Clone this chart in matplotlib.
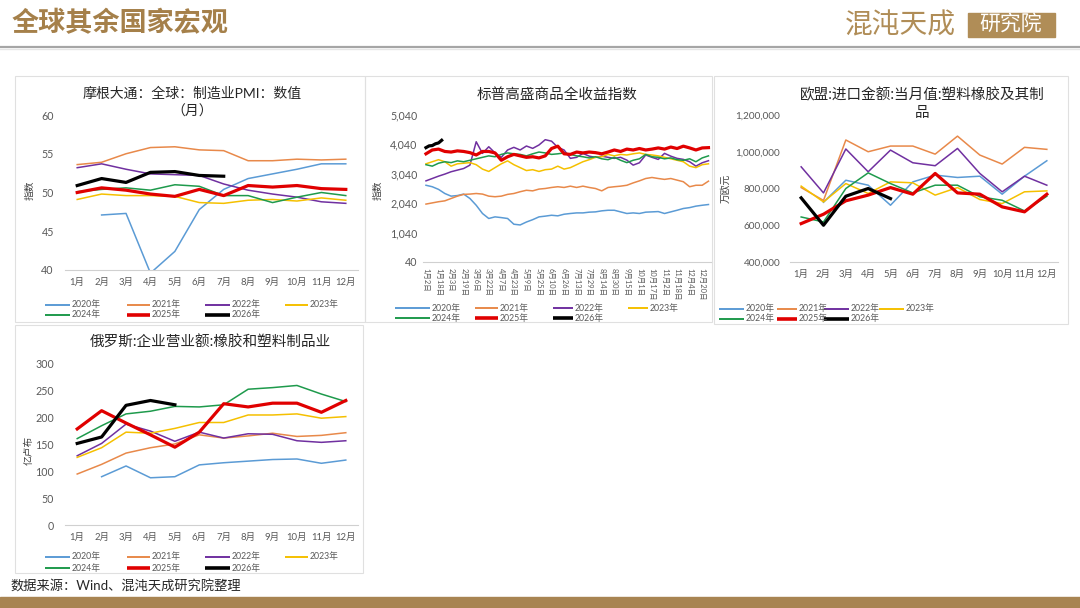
import matplotlib
matplotlib.use('Agg')
import numpy as np
import matplotlib.pyplot as plt
from matplotlib.lines import Line2D
from matplotlib.patches import Rectangle
from matplotlib.ticker import FuncFormatter

plt.rcParams['font.family'] = ['Lato', 'Noto Sans CJK SC', 'DejaVu Sans']

W, H = 1080, 608
nan = np.nan

years = ['2020年', '2021年', '2022年', '2023年', '2024年', '2025年', '2026年']
colors = ['#5b9bd5', '#e8894a', '#7030a0', '#f5c000', '#1e9a4c', '#e00000', '#000000']
widths = [1.1, 1.1, 1.1, 1.1, 1.1, 2.3, 2.3]
months = ['1月', '2月', '3月', '4月', '5月', '6月', '7月', '8月', '9月', '10月', '11月', '12月']

# 摩根大通 全球制造业PMI
pmi_2020 = [nan, 47.1, 47.3, 39.6, 42.4, 47.8, 50.4, 51.8, 52.4, 53.0, 53.7, 53.7]
pmi_2021 = [53.6, 53.9, 55.0, 55.8, 55.9, 55.5, 55.4, 54.1, 54.1, 54.3, 54.2, 54.3]
pmi_2022 = [53.2, 53.7, 53.0, 52.4, 52.3, 52.2, 51.1, 50.3, 49.8, 49.4, 48.8, 48.6]
pmi_2023 = [49.1, 49.8, 49.6, 49.6, 49.5, 48.7, 48.6, 49.0, 49.1, 48.9, 49.3, 49.0]
pmi_2024 = [50.1, 50.4, 50.6, 50.3, 51.0, 50.8, 49.6, 49.6, 48.7, 49.4, 50.0, 49.6]
pmi_2025 = [50.0, 50.6, 50.3, 49.8, 49.5, 50.4, 49.6, 50.9, 50.7, 50.9, 50.5, 50.4]
pmi_2026 = [50.9, 51.8, 51.3, 52.6, 52.7, 52.2, 52.1, nan, nan, nan, nan, nan]

# 标普高盛商品全收益指数 (sampled every 8 days from 1月2日)
spgs_days = list(range(0, 361, 8))
spgs_2020 = [2650, 2600, 2510, 2370, 2280, 2300, 2350, 2200, 1970, 1690,
             1520, 1575, 1550, 1520, 1325, 1300, 1400, 1480, 1575, 1600,
             1630, 1610, 1665, 1690, 1710, 1710, 1735, 1745, 1780, 1800,
             1800, 1745, 1690, 1710, 1690, 1735, 1745, 1755, 1690, 1745,
             1800, 1860, 1890, 1940, 1970, 1995]
spgs_2021 = [2010, 2050, 2090, 2120, 2200, 2280, 2340, 2350, 2370, 2350,
             2280, 2260, 2280, 2340, 2370, 2430, 2480, 2460, 2520, 2540,
             2575, 2600, 2575, 2620, 2575, 2620, 2575, 2540, 2460, 2575,
             2600, 2620, 2650, 2730, 2800, 2880, 2915, 2880, 2850, 2880,
             2825, 2770, 2600, 2650, 2650, 2790]
spgs_2022 = [2800, 2880, 2960, 3030, 3110, 3165, 3220, 3335, 4130, 3735,
             3960, 3750, 3600, 3850, 3940, 3850, 3985, 3905, 4020, 4200,
             4150, 3940, 3850, 3565, 3600, 3735, 3640, 3600, 3640, 3600,
             3565, 3600, 3505, 3335, 3415, 3680, 3600, 3530, 3735, 3640,
             3565, 3530, 3450, 3300, 3415, 3485]
spgs_2023 = [3380, 3450, 3520, 3450, 3300, 3380, 3400, 3420, 3350, 3200,
             3120, 3250, 3380, 3480, 3350, 3250, 3150, 3180, 3120, 3180,
             3200, 3300, 3200, 3250, 3350, 3450, 3520, 3600, 3620, 3700,
             3650, 3700, 3680, 3720, 3750, 3700, 3680, 3650, 3600, 3550,
             3500, 3450, 3300, 3250, 3350, 3380]
spgs_2024 = [3350, 3300, 3400, 3450, 3420, 3480, 3450, 3500, 3550, 3600,
             3650, 3620, 3700, 3750, 3720, 3700, 3650, 3720, 3780, 3750,
             3700, 3720, 3750, 3700, 3650, 3620, 3580, 3620, 3550, 3520,
             3600, 3500, 3420, 3500, 3550, 3700, 3620, 3600, 3550, 3580,
             3520, 3500, 3550, 3450, 3580, 3650]
spgs_2025 = [3720, 3850, 3880, 3800, 3780, 3820, 3800, 3760, 3680, 3800,
             3800, 3750, 3500, 3620, 3700, 3650, 3600, 3620, 3580, 3650,
             3900, 3980, 3720, 3700, 3780, 3750, 3780, 3760, 3720, 3780,
             3850, 3800, 3880, 3850, 3900, 3850, 3880, 3920, 3880, 3950,
             3900, 3980, 3920, 3850, 3920, 3930]
spgs_2026_days = [0, 4, 8, 12, 16, 20]
spgs_2026 = [3930, 3990, 4000, 4060, 4090, 4180]
spgs_tick_days = list(range(0, 353, 16))
spgs_tick_labels = ['1月2日', '1月18日', '2月3日', '2月19日', '3月6日', '3月22日',
                    '4月7日', '4月23日', '5月9日', '5月25日', '6月10日', '6月26日',
                    '7月13日', '7月29日', '8月14日', '8月30日', '9月15日', '10月1日',
                    '10月17日', '11月2日', '11月18日', '12月4日', '12月20日']

# 欧盟 进口金额 塑料橡胶及其制品 (万欧元)
eu_2020 = [nan, 725000, 845000, 818000, 709000, 836000, 873000, 860000, 867000, 769000, 867000, 951000]
eu_2021 = [805000, 735000, 1064000, 1000000, 1031000, 1031000, 987000, 1085000, 982000, 933000, 1024000, 1013000]
eu_2022 = [918000, 776000, 1015000, 891000, 1009000, 940000, 924000, 1018000, 882000, 782000, 867000, 818000]
eu_2023 = [813000, 727000, 827000, 773000, 836000, 831000, 764000, 805000, 740000, 718000, 782000, 787000]
eu_2024 = [645000, 618000, 800000, 885000, 827000, 776000, 818000, 818000, 755000, 736000, 678000, 758000]
eu_2025 = [609000, 660000, 733000, 764000, 805000, 769000, 882000, 776000, 769000, 700000, 673000, 769000]
eu_2026 = [749000, 600000, 758000, 800000, 745000, nan, nan, nan, nan, nan, nan, nan]

# 俄罗斯 企业营业额 橡胶和塑料制品业 (亿卢布)
ru_2020 = [nan, 90, 110, 88, 90, 112, 116, 119, 122, 123, 115, 121]
ru_2021 = [95, 113, 134, 144, 151, 168, 162, 166, 171, 165, 167, 172]
ru_2022 = [129, 152, 188, 175, 156, 173, 162, 170, 169, 157, 154, 157]
ru_2023 = [126, 144, 173, 171, 180, 191, 191, 205, 205, 207, 199, 202]
ru_2024 = [161, 185, 207, 212, 221, 220, 224, 253, 256, 260, 244, 230]
ru_2025 = [179, 213, 190, 168, 145, 173, 226, 220, 227, 227, 210, 232]
ru_2026 = [152, 164, 223, 232, 224, nan, nan, nan, nan, nan, nan, nan]

fig = plt.figure(figsize=(W / 100, H / 100), dpi=100)

def fx(x):
    return x / W

def fy(y):
    return 1 - y / H

def px_axes(l, t, r, b):
    return fig.add_axes([fx(l), fy(b), (r - l) / W, (b - t) / H])

def ftext(x, y, s, **kw):
    fig.text(fx(x), fy(y), s, **kw)

def style_axes(ax, ypad, xpad, ysize, xsize):
    for s in ['top', 'right', 'left']:
        ax.spines[s].set_visible(False)
    ax.spines['bottom'].set_color('#d0d0d0')
    ax.spines['bottom'].set_linewidth(0.8)
    ax.tick_params(axis='y', length=0, pad=ypad, labelsize=ysize, labelcolor='#595959')
    ax.tick_params(axis='x', length=0, pad=xpad, labelsize=xsize, labelcolor='#595959')
    ax.patch.set_alpha(0)

def legend(cols, rows):
    k = 0
    for r in rows:
        for (x0, x1, xt) in cols:
            if k >= len(years):
                return
            fig.add_artist(Line2D([fx(x0), fx(x1)], [fy(r), fy(r)], color=colors[k],
                                  lw=widths[k] + 0.3, solid_capstyle='butt'))
            ftext(xt, r, years[k], fontsize=6.3, color='#595959', va='center', ha='left')
            k += 1

def panel_box(l, t, r, b):
    fig.add_artist(Rectangle((fx(l), fy(b)), (r - l) / W, (b - t) / H, fill=False,
                             edgecolor='#e0e0e0', lw=0.8, transform=fig.transFigure))

# header
ftext(12, 22, '全球其余国家宏观', fontsize=19.5, color='#a5804a', fontweight='bold', va='center')
ftext(845, 25, '混沌天成', fontsize=20, color='#b08d57', va='center')
fig.add_artist(Rectangle((fx(968), fy(37)), 87 / W, 24 / H, color='#b08d57',
                         transform=fig.transFigure))
ftext(1011, 25, '研究院', fontsize=15, color='white', va='center', ha='center')
fig.add_artist(Line2D([0, 1], [fy(46.5), fy(46.5)], color='#a6a6a6', lw=1.6))
fig.add_artist(Line2D([0, 1], [fy(48.5), fy(48.5)], color='#e6e6e6', lw=1.0))

# footer
ftext(10, 586, '数据来源：Wind、混沌天成研究院整理', fontsize=9.5, color='#262626', va='center')
fig.add_artist(Rectangle((0, 0), 1, 11 / H, color='#a88452', transform=fig.transFigure))

panel_box(15, 76, 365, 322)
panel_box(365, 76, 712, 322)
panel_box(714, 76, 1068, 324)
panel_box(15, 325, 363, 573)

x_cat = np.arange(12)

# panel 1: PMI
ax1 = px_axes(65, 115, 358, 270)
for k, s in enumerate([pmi_2020, pmi_2021, pmi_2022, pmi_2023, pmi_2024, pmi_2025, pmi_2026]):
    ax1.plot(x_cat, s, color=colors[k], lw=widths[k])
ax1.set_xlim(-0.5, 11.5)
ax1.set_ylim(40, 60)
ax1.set_yticks([40, 45, 50, 55, 60])
ax1.set_xticks(x_cat)
ax1.set_xticklabels(months)
style_axes(ax1, 8, 6, 7.7, 6.8)
ftext(192, 93, '摩根大通：全球：制造业PMI：数值', fontsize=10, color='#262626', ha='center', va='center')
ftext(192, 111, '（月）', fontsize=10, color='#262626', ha='center', va='center')
ftext(30, 190, '指数', fontsize=7, color='#404040', rotation=90, ha='center', va='center')
legend([(45, 70, 72), (127, 150, 152), (205, 230, 232), (285, 308, 310)], [305, 315])

# panel 2: S&P GSCI
ax2 = px_axes(423, 115, 712, 262)
spgs = [spgs_2020, spgs_2021, spgs_2022, spgs_2023, spgs_2024, spgs_2025]
for k, s in enumerate(spgs):
    ax2.plot(spgs_days, s, color=colors[k], lw=widths[k])
ax2.plot(spgs_2026_days, spgs_2026, color=colors[6], lw=widths[6])
ax2.set_xlim(-3.8, 364.5)
ax2.set_ylim(40, 5040)
ax2.set_yticks([40, 1040, 2040, 3040, 4040, 5040])
ax2.yaxis.set_major_formatter(FuncFormatter(lambda v, p: '{:,.0f}'.format(v)))
ax2.set_xticks(spgs_tick_days)
ax2.set_xticklabels(spgs_tick_labels, rotation=-90, va='top', ha='center')
style_axes(ax2, 4, 4, 7.7, 5.4)
ftext(557, 95, '标普高盛商品全收益指数', fontsize=10.5, color='#262626', ha='center', va='center')
ftext(378, 190, '指数', fontsize=7, color='#404040', rotation=90, ha='center', va='center')
legend([(395, 430, 432), (475, 498, 500), (553, 573, 575), (628, 648, 650)], [308, 318])

# panel 3: EU imports
ax3 = px_axes(790, 115, 1058, 262)
for k, s in enumerate([eu_2020, eu_2021, eu_2022, eu_2023, eu_2024, eu_2025, eu_2026]):
    ax3.plot(x_cat, s, color=colors[k], lw=widths[k])
ax3.set_xlim(-0.5, 11.5)
ax3.set_ylim(400000, 1200000)
ax3.set_yticks([400000, 600000, 800000, 1000000, 1200000])
ax3.yaxis.set_major_formatter(FuncFormatter(lambda v, p: '{:,.0f}'.format(v)))
ax3.set_xticks(x_cat)
ax3.set_xticklabels(months)
style_axes(ax3, 7, 6, 7.2, 6.8)
ftext(922, 95, '欧盟:进口金额:当月值:塑料橡胶及其制', fontsize=10.5, color='#262626', ha='center', va='center')
ftext(922, 113, '品', fontsize=10.5, color='#262626', ha='center', va='center')
ftext(726, 188, '万欧元', fontsize=7, color='#404040', rotation=90, ha='center', va='center')
legend([(719, 744, 746), (777, 797, 799), (824, 849, 851), (879, 904, 906)], [309, 319])

# panel 4: Russia turnover
ax4 = px_axes(65, 364, 358, 525)
for k, s in enumerate([ru_2020, ru_2021, ru_2022, ru_2023, ru_2024, ru_2025, ru_2026]):
    ax4.plot(x_cat, s, color=colors[k], lw=widths[k])
ax4.set_xlim(-0.5, 11.5)
ax4.set_ylim(0, 300)
ax4.set_yticks([0, 50, 100, 150, 200, 250, 300])
ax4.set_xticks(x_cat)
ax4.set_xticklabels(months)
style_axes(ax4, 8, 6, 7.7, 6.8)
ftext(210, 343, '俄罗斯:企业营业额:橡胶和塑料制品业', fontsize=10.5, color='#262626', ha='center', va='center')
ftext(29, 450, '亿卢布', fontsize=7, color='#404040', rotation=90, ha='center', va='center')
legend([(45, 70, 72), (127, 150, 152), (205, 230, 232), (285, 308, 310)], [557, 568])

fig.savefig('out.png', dpi=100)
